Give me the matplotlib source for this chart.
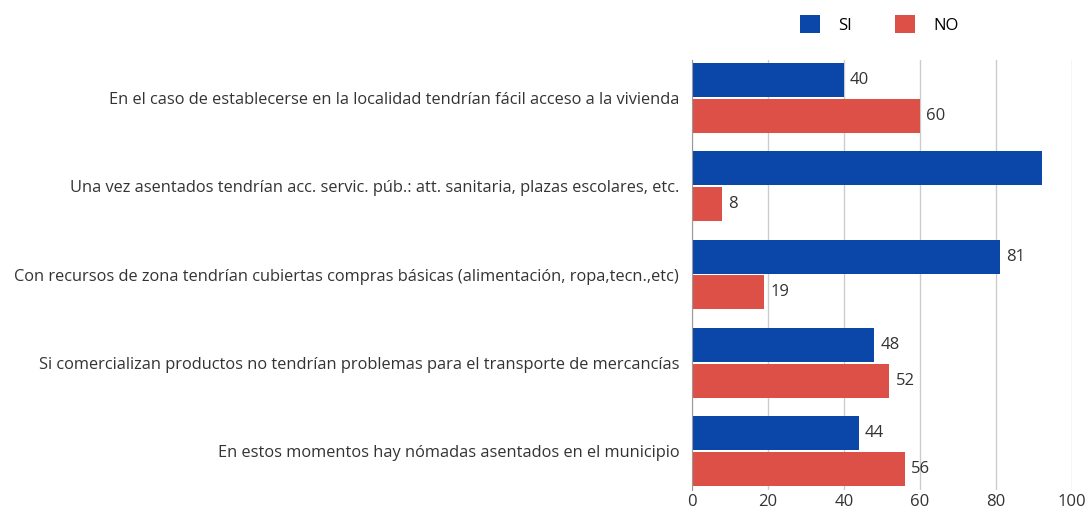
import numpy as np
import matplotlib.pyplot as plt

plt.rcParams['font.family'] = ['Open Sans', 'DejaVu Sans']

categories = [
    'En el caso de establecerse en la localidad tendrían fácil acceso a la vivienda',
    'Una vez asentados tendrían acc. servic. púb.: att. sanitaria, plazas escolares, etc.',
    'Con recursos de zona tendrían cubiertas compras básicas (alimentación, ropa,tecn.,etc)',
    'Si comercializan productos no tendrían problemas para el transporte de mercancías',
    'En estos momentos hay nómadas asentados en el municipio',
]
si = [40, 92, 81, 48, 44]
no = [60, 8, 19, 52, 56]
si_labels = ['40', '', '81', '48', '44']
no_labels = ['60', '8', '19', '52', '56']

blue = '#0a47a9'
red = '#dd5047'

fig = plt.figure(figsize=(10.91, 5.11), dpi=100)
ax = fig.add_axes([0.634, 0.041, 0.3486, 0.8416])

y = np.arange(len(categories))
h = 0.385
gap = 0.02
b1 = ax.barh(y - h / 2 - gap / 2, si, height=h, color=blue, label='SI', zorder=3)
b2 = ax.barh(y + h / 2 + gap / 2, no, height=h, color=red, label='NO', zorder=3)

for bar, lab in zip(b1, si_labels):
    if lab:
        ax.text(bar.get_width() + 1.6, bar.get_y() + bar.get_height() / 2, lab,
                va='center', ha='left', fontsize=12, color='#333333')
for bar, lab in zip(b2, no_labels):
    ax.text(bar.get_width() + 1.6, bar.get_y() + bar.get_height() / 2, lab,
            va='center', ha='left', fontsize=12, color='#333333')

ax.set_xlim(0, 100)
ax.set_ylim(4.44, -0.43)
ax.set_xticks([0, 20, 40, 60, 80, 100])
ax.set_yticks(y)
ax.set_yticklabels(categories)
ax.tick_params(axis='y', length=0, pad=9, labelsize=11.8, labelcolor='#333333')
ax.tick_params(axis='x', length=0, pad=3, labelsize=12, labelcolor='#333333')
ax.grid(axis='x', color='#cccccc', linewidth=1, zorder=0)
for s in ['top', 'right', 'bottom']:
    ax.spines[s].set_visible(False)
ax.spines['left'].set_color('#999999')
ax.spines['left'].set_zorder(4)

fig.legend(handles=[b1, b2], labels=['SI', 'NO'], loc='center', bbox_to_anchor=(0.806, 0.952),
           ncol=2, frameon=False, fontsize=12, handlelength=1.2, handleheight=1.3,
           columnspacing=2.6, handletextpad=1.1)

fig.savefig('out.png', dpi=100)
